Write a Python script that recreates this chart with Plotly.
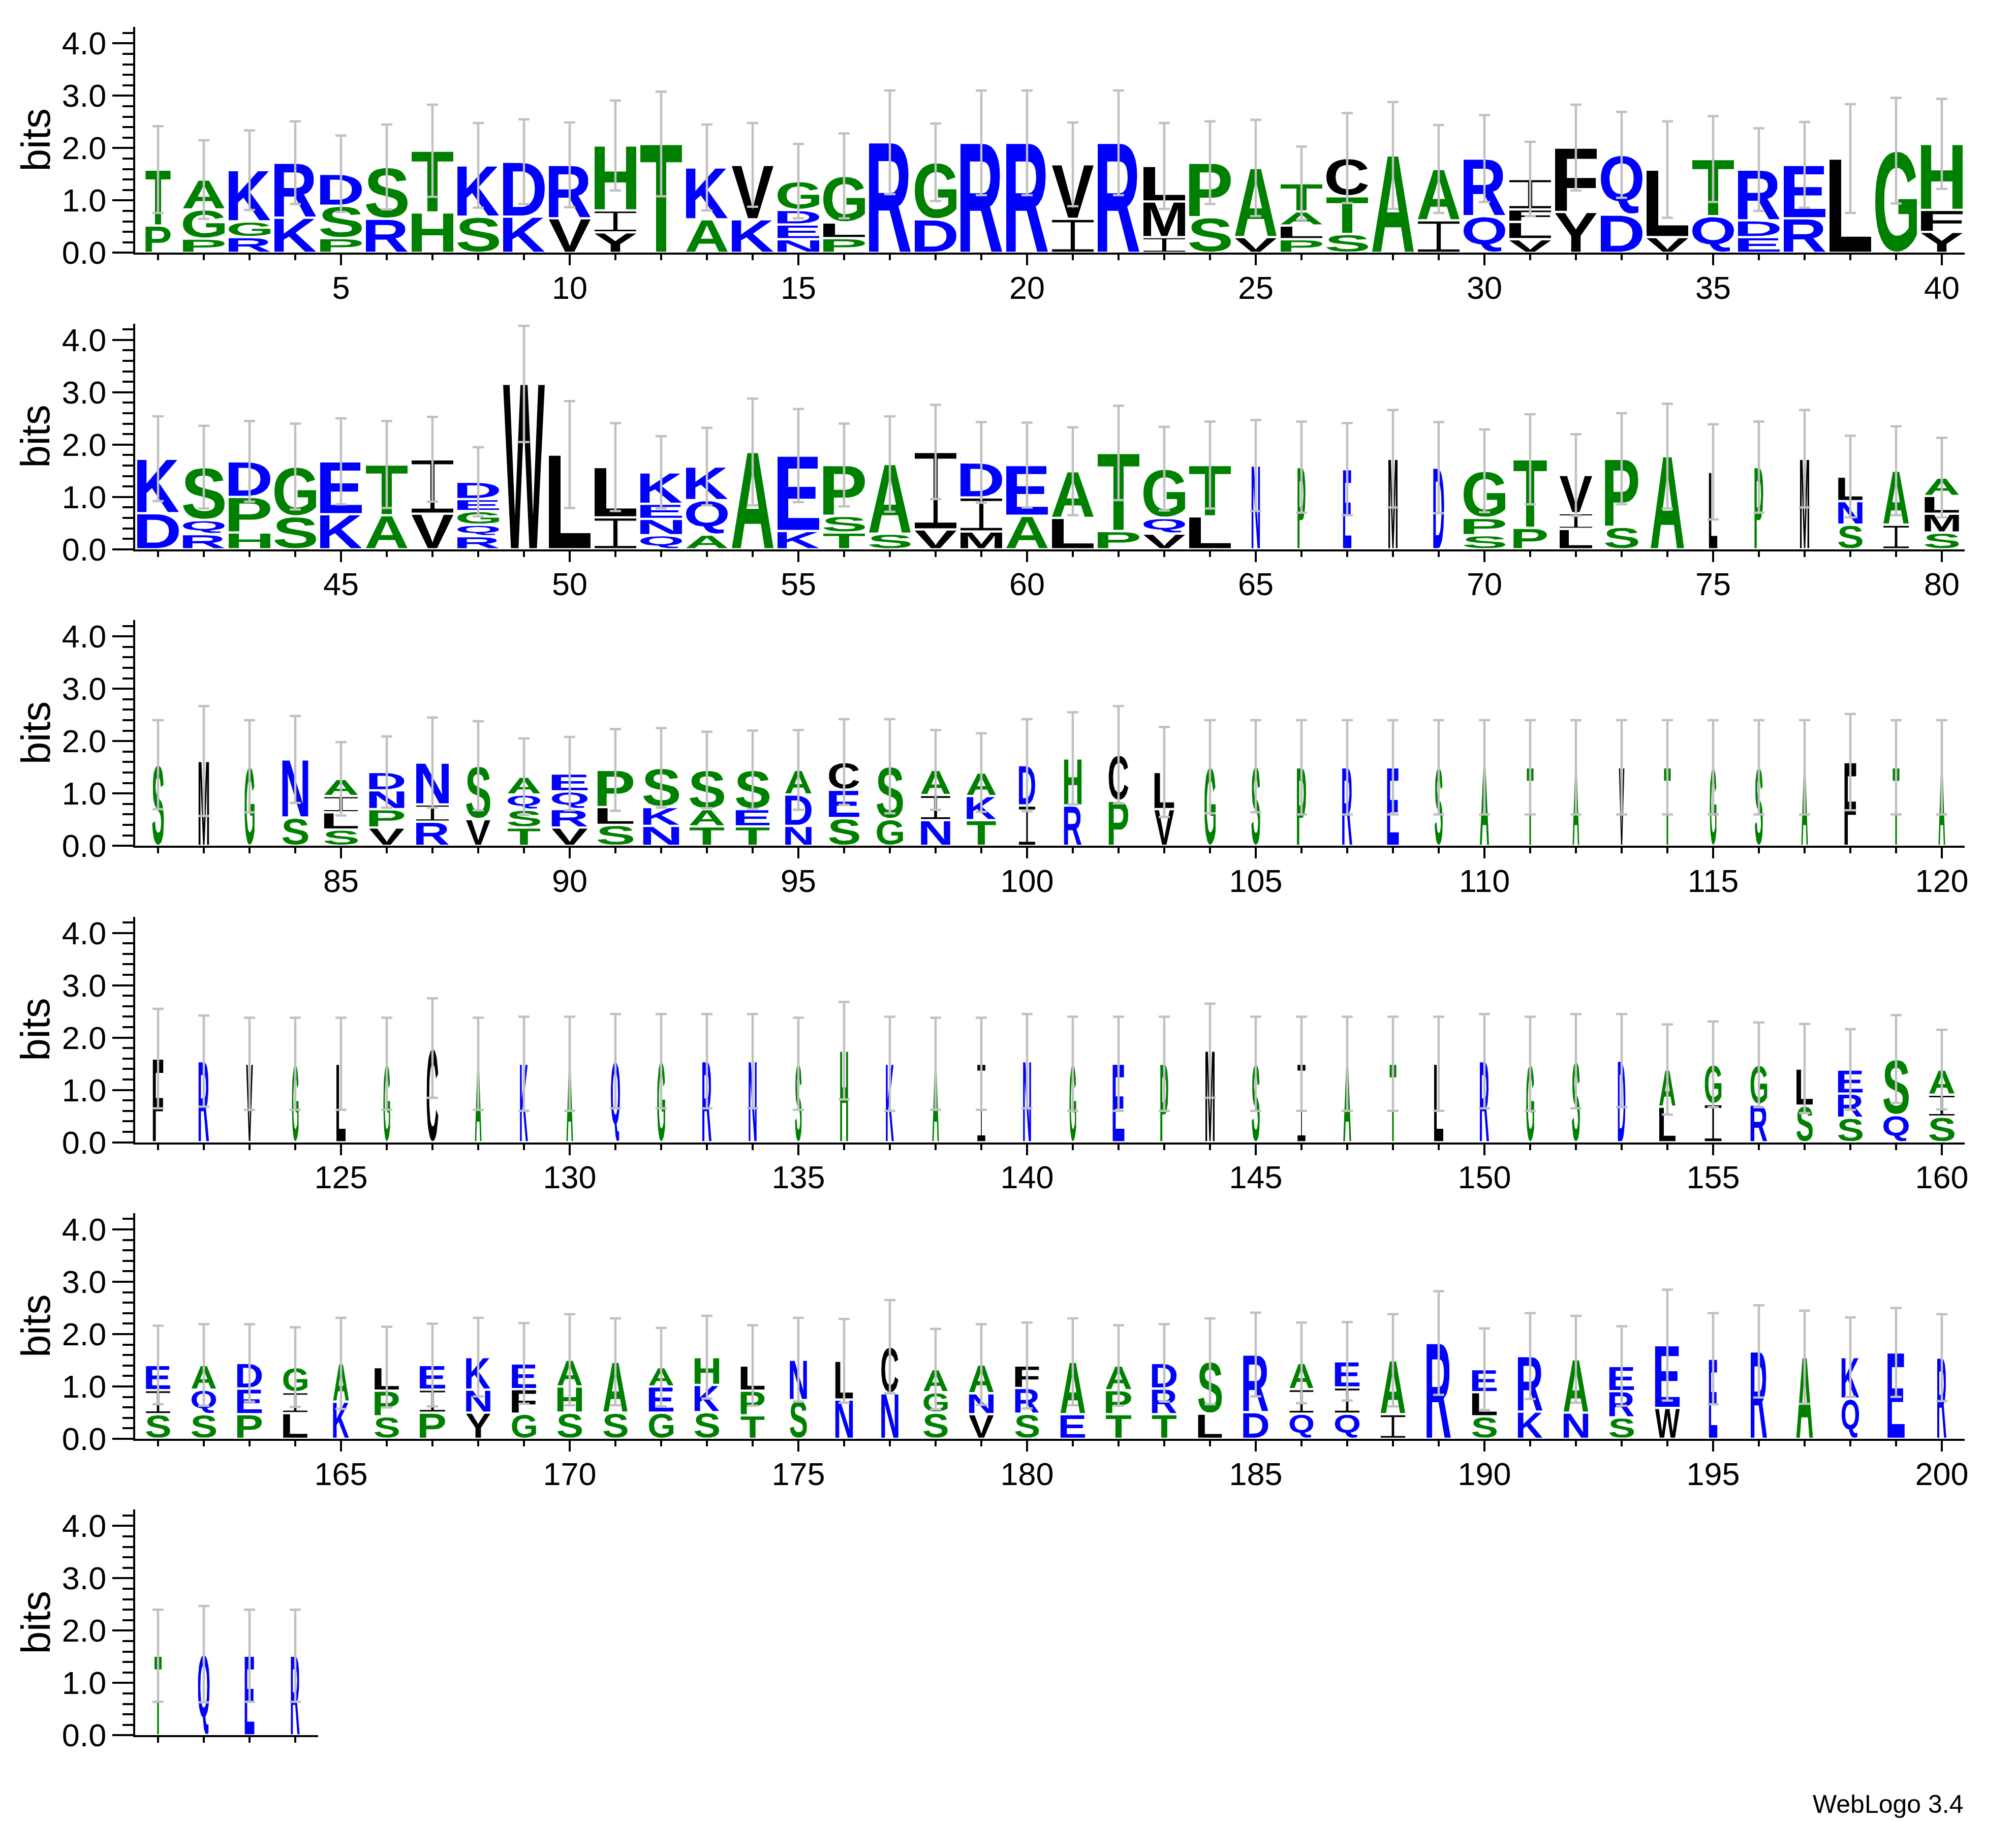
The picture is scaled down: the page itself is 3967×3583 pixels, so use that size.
import os
import struct
import plotly.graph_objects as go

# ---------------------------------------------------------------- data
positions = list(range(1, 205))

# letters of each stack, bottom to top
stack_letters = [
    # 1-40
    "PT", "PGA", "RGK", "KR", "PSD", "RS", "HT", "SK", "KD", "VR",
    "YIH", "T", "AK", "KV", "NEDG", "PLG", "R", "DG", "R", "R",
    "IV", "R", "IML", "SP", "VA", "PLAT", "STC", "A", "IA", "QR",
    "VLFI", "YF", "DQ", "VL", "QT", "EDR", "RE", "L", "G", "YFH",
    # 41-80
    "DK", "RQS", "HPD", "SG", "KE", "AT", "VI", "RQGED", "W", "L",
    "IL", "QNEK", "AQK", "A", "KE", "TSP", "SA", "VI", "MID", "AE",
    "LA", "PT", "VQG", "LT", "N", "P", "E", "M", "D", "SPG",
    "PT", "LIV", "SP", "A", "L", "P", "M", "SNL", "IA", "SMLA",
    # 81-120
    "S", "M", "G", "SN", "SLIA", "VPND", "RIN", "VS", "TSQA", "VRQE",
    "SLP", "NKS", "TAS", "TES", "NDA", "SEC", "GS", "NIA", "TKA", "ID",
    "RH", "PC", "VL", "G", "S", "P", "R", "E", "S", "A",
    "T", "A", "V", "T", "G", "S", "A", "F", "T", "A",
    # 121-160
    "F", "R", "V", "G", "L", "G", "C", "A", "K", "A",
    "Q", "G", "R", "N", "S", "H", "K", "A", "I", "N",
    "G", "E", "P", "M", "S", "I", "A", "T", "L", "R",
    "G", "S", "D", "LA", "IG", "RG", "SL", "SRE", "QS", "SIA",
    # 161-200
    "SIE", "SQA", "PED", "LIG", "KA", "SPL", "PIE", "YNK", "GFE", "SHA",
    "SA", "GEA", "SKH", "TPL", "SN", "NL", "NC", "SGA", "VNA", "SRF",
    "EA", "TPA", "TRD", "LS", "DR", "QIA", "QIE", "IA", "R", "SLE",
    "KR", "NA", "SRE", "WE", "E", "R", "A", "QK", "E", "R",
    # 201-204
    "T", "Q", "E", "R",
]

# height (bits) of each letter of the stack, bottom to top
stack_bits = [
    # 1-40
    [0.52, 1.07], [0.27, 0.56, 0.57], [0.30, 0.30, 0.98], [0.67, 1.05], [0.28, 0.62, 0.61],
    [0.65, 0.99], [0.77, 1.18], [0.69, 0.98], [0.69, 1.05], [0.66, 1.02],
    [0.39, 0.42, 1.24], [2.08], [0.64, 0.99], [0.64, 1.04], [0.26, 0.28, 0.28, 0.55],
    [0.28, 0.30, 0.89], [2.11], [0.64, 1.09], [2.10], [2.10],
    [0.65, 1.04], [2.10], [0.30, 0.68, 0.68], [0.68, 1.04], [0.30, 1.32],
    [0.26, 0.26, 0.27, 0.54], [0.36, 0.72, 0.73], [1.86], [0.62, 0.98], [0.70, 1.10],
    [0.26, 0.33, 0.24, 0.58], [0.78, 1.23], [0.73, 1.14], [0.30, 1.29], [0.70, 1.09],
    [0.30, 0.32, 0.97], [0.66, 1.02], [1.80], [1.95], [0.40, 0.42, 1.26],
    # 41-80
    [0.69, 1.04], [0.29, 0.27, 1.01], [0.32, 0.68, 0.68], [0.63, 0.95], [0.67, 1.01],
    [0.65, 0.97], [0.68, 1.04], [0.25, 0.22, 0.26, 0.23, 0.33], [3.16], [1.81],
    [0.61, 0.96], [0.27, 0.31, 0.29, 0.60], [0.28, 0.66, 0.64], [1.86], [0.35, 1.44],
    [0.32, 0.32, 0.97], [0.30, 1.33], [0.38, 1.48], [0.34, 0.65, 0.67], [0.64, 0.97],
    [0.60, 0.89], [0.35, 1.49], [0.30, 0.30, 0.94], [0.63, 0.98], [1.60],
    [1.57], [1.53], [1.73], [1.56], [0.27, 0.33, 0.90],
    [0.41, 1.31], [0.39, 0.30, 0.73], [0.43, 1.30], [1.78], [1.48],
    [1.57], [1.73], [0.47, 0.45, 0.47], [0.47, 1.03], [0.32, 0.36, 0.34, 0.35],
    # 81-120
    [1.55], [1.62], [1.52], [0.54, 1.11], [0.31, 0.33, 0.31, 0.33],
    [0.35, 0.35, 0.36, 0.35], [0.46, 0.33, 0.80], [0.51, 1.02], [0.35, 0.34, 0.29, 0.34], [0.35, 0.35, 0.34, 0.34],
    [0.40, 0.34, 0.71], [0.38, 0.36, 0.75], [0.37, 0.33, 0.75], [0.37, 0.33, 0.75], [0.38, 0.60, 0.47],
    [0.53, 0.54, 0.53], [0.51, 1.01], [0.49, 0.48, 0.48], [0.49, 0.46, 0.45], [0.77, 0.77],
    [0.77, 0.90], [0.86, 0.88], [0.70, 0.71], [1.51], [1.52],
    [1.50], [1.50], [1.50], [1.50], [1.50],
    [1.50], [1.50], [1.50], [1.50], [1.50],
    [1.50], [1.50], [1.60], [1.50], [1.50],
    # 121-160
    [1.60], [1.55], [1.50], [1.50], [1.50],
    [1.50], [1.80], [1.50], [1.50], [1.50],
    [1.55], [1.55], [1.55], [1.55], [1.50],
    [1.75], [1.50], [1.50], [1.50], [1.55],
    [1.50], [1.50], [1.50], [1.75], [1.50],
    [1.50], [1.50], [1.50], [1.50], [1.55],
    [1.50], [1.55], [1.56], [0.68, 0.71], [0.73, 0.76],
    [0.72, 0.76], [0.70, 0.71], [0.47, 0.46, 0.46], [0.52, 1.07], [0.49, 0.42, 0.48],
    # 161-200
    [0.47, 0.46, 0.48], [0.47, 0.47, 0.47], [0.47, 0.49, 0.49], [0.49, 0.40, 0.48], [0.71, 0.73],
    [0.43, 0.49, 0.45], [0.50, 0.44, 0.47], [0.50, 0.44, 0.62], [0.48, 0.47, 0.49], [0.50, 0.50, 0.51],
    [0.50, 0.97], [0.50, 0.50, 0.37], [0.51, 0.52, 0.53], [0.45, 0.47, 0.48], [0.74, 0.77],
    [0.75, 0.74], [0.87, 0.89], [0.50, 0.39, 0.44], [0.47, 0.40, 0.55], [0.48, 0.49, 0.43],
    [0.47, 1.00], [0.47, 0.46, 0.47], [0.47, 0.49, 0.49], [0.48, 1.00], [0.51, 1.10],
    [0.48, 0.47, 0.50], [0.48, 0.50, 0.50], [0.47, 1.03], [1.83], [0.43, 0.46, 0.44],
    [0.52, 1.06], [0.50, 1.02], [0.41, 0.50, 0.48], [0.59, 1.20], [1.53],
    [1.67], [1.56], [0.77, 0.79], [1.65], [1.55],
    # 201-204
    [1.52], [1.55], [1.52], [1.52],
]

# half length (bits) of the error bar drawn at the top of each stack
error_bits = [
    # 1-40
    0.83, 0.75, 0.76, 0.79, 0.73, 0.81, 0.88, 0.81, 0.81, 0.81,
    0.86, 1.00, 0.82, 0.80, 0.71, 0.81, 0.99, 0.74, 1.00, 1.00,
    0.80, 1.00, 0.82, 0.79, 0.92, 0.70, 0.86, 1.02, 0.84, 0.83,
    0.71, 0.82, 0.82, 0.92, 0.82, 0.79, 0.82, 1.04, 1.01, 0.86,
    # 41-80
    0.81, 0.79, 0.77, 0.82, 0.82, 0.83, 0.81, 0.66, 1.11, 1.02,
    0.84, 0.69, 0.74, 1.02, 0.89, 0.79, 0.91, 0.90, 0.77, 0.81,
    0.84, 0.90, 0.80, 0.83, 0.87, 0.87, 0.88, 0.93, 0.87, 0.79,
    0.86, 0.78, 0.87, 1.00, 0.91, 0.87, 0.93, 0.78, 0.85, 0.76,
    # 81-120
    0.85, 1.05, 0.88, 0.83, 0.70, 0.68, 0.86, 0.85, 0.73, 0.70,
    0.78, 0.76, 0.73, 0.75, 0.76, 0.82, 0.90, 0.76, 0.75, 0.88,
    0.88, 0.93, 0.86, 0.89, 0.88, 0.90, 0.90, 0.90, 0.90, 0.90,
    0.90, 0.90, 0.90, 0.90, 0.90, 0.90, 0.90, 0.92, 0.90, 0.90,
    # 121-160
    0.95, 0.87, 0.88, 0.88, 0.88, 0.88, 0.95, 0.88, 0.90, 0.90,
    0.90, 0.90, 0.90, 0.90, 0.88, 0.93, 0.90, 0.88, 0.88, 0.90,
    0.90, 0.90, 0.90, 0.90, 0.90, 0.90, 0.90, 0.90, 0.90, 0.90,
    0.90, 0.90, 0.89, 0.86, 0.82, 0.81, 0.85, 0.77, 0.84, 0.76,
    # 161-200
    0.75, 0.78, 0.74, 0.76, 0.87, 0.77, 0.79, 0.75, 0.77, 0.87,
    0.83, 0.75, 0.79, 0.77, 0.80, 0.80, 0.89, 0.77, 0.77, 0.82,
    0.83, 0.77, 0.74, 0.82, 0.80, 0.77, 0.75, 0.88, 0.99, 0.78,
    0.82, 0.83, 0.76, 1.06, 0.87, 0.88, 0.89, 0.76, 0.85, 0.83,
    # 201-204
    0.88, 0.92, 0.88, 0.88,
]

# relative stack width (fraction of a full column)
column_width = [
    # 1-40
    0.60, 1, 1, 1, 1, 1, 1, 1, 1, 1,
    1, 1, 1, 1, 1, 1, 1, 1, 1, 1,
    1, 1, 1, 1, 1, 1, 1, 1, 1, 1,
    1, 1, 1, 1, 1, 1, 1, 1, 1, 1,
    # 41-80
    1, 1, 1, 1, 1, 1, 1, 1, 1, 1,
    1, 1, 1, 1, 1, 1, 1, 1, 1, 1,
    1, 1, 1, 1, 0.20, 0.19, 0.20, 0.22, 0.26, 1,
    0.80, 0.78, 0.80, 0.80, 0.20, 0.21, 0.22, 0.58, 0.61, 0.82,
    # 81-120
    0.28, 0.25, 0.24, 0.62, 0.81, 0.84, 0.78, 0.58, 0.78, 0.86,
    0.86, 0.86, 0.83, 0.81, 0.63, 0.73, 0.63, 0.70, 0.70, 0.39,
    0.42, 0.47, 0.47, 0.27, 0.21, 0.22, 0.24, 0.28, 0.19, 0.22,
    0.16, 0.16, 0.13, 0.16, 0.16, 0.19, 0.16, 0.28, 0.16, 0.16,
    # 121-160
    0.25, 0.25, 0.16, 0.16, 0.22, 0.16, 0.28, 0.16, 0.19, 0.16,
    0.22, 0.19, 0.22, 0.19, 0.16, 0.19, 0.19, 0.16, 0.19, 0.19,
    0.16, 0.28, 0.19, 0.22, 0.19, 0.19, 0.19, 0.16, 0.22, 0.22,
    0.19, 0.19, 0.18, 0.39, 0.40, 0.40, 0.39, 0.59, 0.61, 0.61,
    # 161-200
    0.58, 0.59, 0.59, 0.58, 0.38, 0.58, 0.61, 0.58, 0.58, 0.59,
    0.58, 0.59, 0.59, 0.57, 0.41, 0.42, 0.41, 0.58, 0.59, 0.57,
    0.59, 0.61, 0.59, 0.57, 0.60, 0.57, 0.59, 0.59, 0.58, 0.59,
    0.59, 0.59, 0.59, 0.59, 0.20, 0.39, 0.40, 0.42, 0.41, 0.22,
    # 201-204
    0.17, 0.28, 0.23, 0.21,
]

row_length = 40
tick_step = 5

# ---------------------------------------------------------------- styles
FONT = "Liberation Sans, Arial, Helvetica, sans-serif"
W, H = 3967, 3583
COLORS = {}
for c in "RKDENQ":
    COLORS[c] = "#0000ff"
for c in "SGHTAP":
    COLORS[c] = "#008000"
for c in "YVMCLFIW":
    COLORS[c] = "#000000"
ERR_COLOR = "#c0c0c0"


# ---------------------------------------------------------------- glyph outlines from a system font
def find_font():
    wanted = ["liberationsans-bold.ttf", "arialbd.ttf", "dejavusans-bold.ttf",
              "roboto-bold.ttf", "opensans-bold.ttf", "lato-bold.ttf"]
    found = {}
    for root in ["/usr/share/fonts", "/usr/local/share/fonts",
                 os.path.expanduser("~/.fonts"), os.path.expanduser("~/.local/share/fonts")]:
        if not os.path.isdir(root):
            continue
        for dp, dn, fn in os.walk(root):
            for f in fn:
                if f.lower() in wanted and f.lower() not in found:
                    found[f.lower()] = os.path.join(dp, f)
    for w in wanted:
        if w in found:
            return found[w]
    return None


def flatten(pts, steps=5):
    n = len(pts)
    exp = []
    for i in range(n):
        x, y, on = pts[i]
        nx, ny, non = pts[(i + 1) % n]
        exp.append((x, y, on))
        if not on and not non:
            exp.append(((x + nx) / 2.0, (y + ny) / 2.0, 1))
    k = next((i for i, p in enumerate(exp) if p[2]), None)
    if k is None:
        return [(p[0], p[1]) for p in exp]
    exp = exp[k:] + exp[:k]
    m = len(exp)
    out = [(exp[0][0], exp[0][1])]
    i = 0
    while i < m:
        p0 = exp[i]
        p1 = exp[(i + 1) % m]
        if p1[2]:
            out.append((p1[0], p1[1]))
            i += 1
        else:
            p2 = exp[(i + 2) % m]
            for s in range(1, steps + 1):
                t = s / float(steps)
                a = (1 - t) * (1 - t)
                b = 2 * (1 - t) * t
                c = t * t
                out.append((a * p0[0] + b * p1[0] + c * p2[0],
                            a * p0[1] + b * p1[1] + c * p2[1]))
            i += 2
    return out


def load_glyphs(path, chars):
    data = open(path, "rb").read()
    num_tables = struct.unpack(">H", data[4:6])[0]
    tables = {}
    for i in range(num_tables):
        tag, cs, off, ln = struct.unpack(">4sIII", data[12 + 16 * i:28 + 16 * i])
        tables[tag.decode("latin1")] = off
    head = tables["head"]
    loc_fmt = struct.unpack(">h", data[head + 50:head + 52])[0]
    maxp = tables["maxp"]
    ng = struct.unpack(">H", data[maxp + 4:maxp + 6])[0]
    lo = tables["loca"]
    if loc_fmt == 0:
        loca = [2 * v for v in struct.unpack(">%dH" % (ng + 1), data[lo:lo + 2 * (ng + 1)])]
    else:
        loca = list(struct.unpack(">%dI" % (ng + 1), data[lo:lo + 4 * (ng + 1)]))
    cm = tables["cmap"]
    nsub = struct.unpack(">H", data[cm + 2:cm + 4])[0]
    sub = None
    for i in range(nsub):
        pid, eid, off = struct.unpack(">HHI", data[cm + 4 + 8 * i:cm + 12 + 8 * i])
        fmt = struct.unpack(">H", data[cm + off:cm + off + 2])[0]
        if fmt == 4:
            sub = cm + off
            break
    segx2 = struct.unpack(">H", data[sub + 6:sub + 8])[0]
    seg = segx2 // 2
    p = sub + 14
    ends = struct.unpack(">%dH" % seg, data[p:p + segx2]); p += segx2 + 2
    starts = struct.unpack(">%dH" % seg, data[p:p + segx2]); p += segx2
    deltas = struct.unpack(">%dh" % seg, data[p:p + segx2]); p += segx2
    ro_pos = p
    ros = struct.unpack(">%dH" % seg, data[p:p + segx2])

    def gid(ch):
        c = ord(ch)
        for i in range(seg):
            if starts[i] <= c <= ends[i]:
                if ros[i] == 0:
                    return (c + deltas[i]) & 0xFFFF
                addr = ro_pos + 2 * i + ros[i] + 2 * (c - starts[i])
                g = struct.unpack(">H", data[addr:addr + 2])[0]
                return (g + deltas[i]) & 0xFFFF if g else 0
        return 0

    gl = tables["glyf"]
    result = {}
    for ch in chars:
        g = gid(ch)
        off = gl + loca[g]
        nc = struct.unpack(">h", data[off:off + 2])[0]
        if nc <= 0:
            continue
        p = off + 10
        endpts = struct.unpack(">%dH" % nc, data[p:p + 2 * nc]); p += 2 * nc
        ilen = struct.unpack(">H", data[p:p + 2])[0]; p += 2 + ilen
        npts = endpts[-1] + 1
        flags = []
        while len(flags) < npts:
            f = data[p]; p += 1
            flags.append(f)
            if f & 8:
                r = data[p]; p += 1
                flags.extend([f] * r)
        xs, x = [], 0
        for f in flags:
            if f & 2:
                d = data[p]; p += 1
                x += d if f & 16 else -d
            elif not f & 16:
                x += struct.unpack(">h", data[p:p + 2])[0]; p += 2
            xs.append(x)
        ys, y = [], 0
        for f in flags:
            if f & 4:
                d = data[p]; p += 1
                y += d if f & 32 else -d
            elif not f & 32:
                y += struct.unpack(">h", data[p:p + 2])[0]; p += 2
            ys.append(y)
        conts = []
        s = 0
        for e in endpts:
            pts = [(xs[i], ys[i], flags[i] & 1) for i in range(s, e + 1)]
            s = e + 1
            conts.append(flatten(pts))
        allx = [q[0] for c in conts for q in c]
        ally = [q[1] for c in conts for q in c]
        result[ch] = ((min(allx), min(ally), max(allx), max(ally)), conts)
    return result


LETTERS = sorted(COLORS.keys())
GLYPHS = {}
try:
    fp = find_font()
    if fp:
        GLYPHS = load_glyphs(fp, LETTERS)
except Exception:
    GLYPHS = {}

# serif-style I as drawn by WebLogo
GLYPHS["I"] = ((0, 0, 1, 1), [[(0, 0), (1, 0), (1, 0.075), (0.55, 0.075), (0.55, 0.925), (1, 0.925),
                               (1, 1), (0, 1), (0, 0.925), (0.45, 0.925), (0.45, 0.075), (0, 0.075)]])
for ch in LETTERS:
    if ch not in GLYPHS:
        GLYPHS[ch] = ((0, 0, 1, 1), [[(0, 0), (1, 0), (1, 1), (0, 1)]])


def add_glyph(xs, ys, ch, cx, w, y0, h):
    (gx0, gy0, gx1, gy1), conts = GLYPHS[ch]
    sx = w / float(gx1 - gx0)
    sy = h / float(gy1 - gy0)
    for c in conts:
        for gx, gy in c:
            xs.append(round(cx - w / 2.0 + (gx - gx0) * sx, 4))
            ys.append(round(y0 + (gy - gy0) * sy, 4))
        xs.append(None)
        ys.append(None)


# ---------------------------------------------------------------- figure
fig = go.Figure()
n_rows = (len(positions) + row_length - 1) // row_length
PX_POS = 90.0          # pixels per position
X0_PX = 258.0          # left edge of plotting area
BASE0 = 489.4          # baseline of first row (px from top)
ROW_STEP = 583.4
PX_BIT = 103.0
YMAX = 4.31
LETTER_FILL = 0.91
PAD = 0.022

layout_axes = {}
annotations = []
for r in range(n_rows):
    idx = list(range(r * row_length, min((r + 1) * row_length, len(positions))))
    xname = "x" if r == 0 else "x%d" % (r + 1)
    yname = "y" if r == 0 else "y%d" % (r + 1)
    per_color = {}
    tops = []
    for i in idx:
        p = positions[i]
        y = 0.0
        for ch, hb in zip(stack_letters[i], stack_bits[i]):
            col = COLORS[ch]
            xs, ys = per_color.setdefault(col, ([], []))
            pad = min(PAD, 0.1 * hb)
            add_glyph(xs, ys, ch, p, LETTER_FILL * column_width[i], y + pad, hb - 2 * pad)
            y += hb
        tops.append(y)
    for col in ["#008000", "#0000ff", "#000000"]:
        if col not in per_color:
            continue
        xs, ys = per_color[col]
        fig.add_trace(go.Scatter(x=xs, y=ys, mode="lines", fill="toself", fillcolor=col,
                                 line=dict(width=0, color=col), hoverinfo="skip",
                                 xaxis=xname, yaxis=yname, showlegend=False))
    fig.add_trace(go.Scatter(
        x=[positions[i] for i in idx], y=tops, mode="markers",
        marker=dict(size=1, color="rgba(0,0,0,0)"),
        error_y=dict(type="data", array=[error_bits[i] for i in idx], symmetric=True,
                     color=ERR_COLOR, thickness=4.5, width=11),
        hoverinfo="skip", xaxis=xname, yaxis=yname, showlegend=False))

    first = positions[idx[0]]
    npos = row_length if r < n_rows - 1 else len(idx)
    base = BASE0 + r * ROW_STEP
    ybot = (H - base) / H
    ytop = (H - base + YMAX * PX_BIT) / H
    xl = X0_PX / W
    xr = (X0_PX + npos * PX_POS) / W
    layout_axes["xaxis" if r == 0 else "xaxis%d" % (r + 1)] = dict(
        domain=[xl, xr], range=[first - 0.5, first - 0.5 + npos], anchor=yname,
        automargin=False,
        showline=True, linecolor="black", linewidth=4, showgrid=False, zeroline=False,
        ticks="outside", tickmode="linear", tick0=0, dtick=tick_step, ticklen=21,
        tickwidth=4, tickcolor="black", ticklabelstandoff=-10,
        tickfont=dict(family=FONT, size=63, color="black"),
        minor=dict(ticks="outside", tickmode="linear", tick0=0, dtick=1, ticklen=11,
                   tickwidth=4, tickcolor="black", showgrid=False))
    layout_axes["yaxis" if r == 0 else "yaxis%d" % (r + 1)] = dict(
        domain=[ybot, ytop], range=[0, YMAX], anchor=xname,
        automargin=False,
        showline=True, linecolor="black", linewidth=4, showgrid=False, zeroline=False,
        ticks="outside", tickmode="linear", tick0=0, dtick=1, tickformat=".1f",
        ticklen=41, tickwidth=4, tickcolor="black", ticklabelstandoff=-1,
        tickfont=dict(family=FONT, size=63, color="black"),
        minor=dict(ticks="outside", tickmode="linear", tick0=0, dtick=0.2, ticklen=21,
                   tickwidth=4, tickcolor="black", showgrid=False))
    annotations.append(dict(text="bits", xref="paper", yref=yname, x=62 / W, y=YMAX / 2,
                            xanchor="center", yanchor="middle", textangle=-90, showarrow=False,
                            font=dict(family=FONT, size=80, color="black")))

annotations.append(dict(text="WebLogo 3.4", xref="paper", yref="paper", x=3858 / W,
                        y=(H - 3542) / H, xanchor="right", yanchor="middle", showarrow=False,
                        font=dict(family=FONT, size=50, color="black")))

fig.update_layout(width=W, height=H, autosize=False,
                  margin=dict(l=0, r=0, t=0, b=0, pad=0, autoexpand=False),
                  paper_bgcolor="white", plot_bgcolor="white",
                  showlegend=False, annotations=annotations, **layout_axes)

fig.write_html("out.html")
